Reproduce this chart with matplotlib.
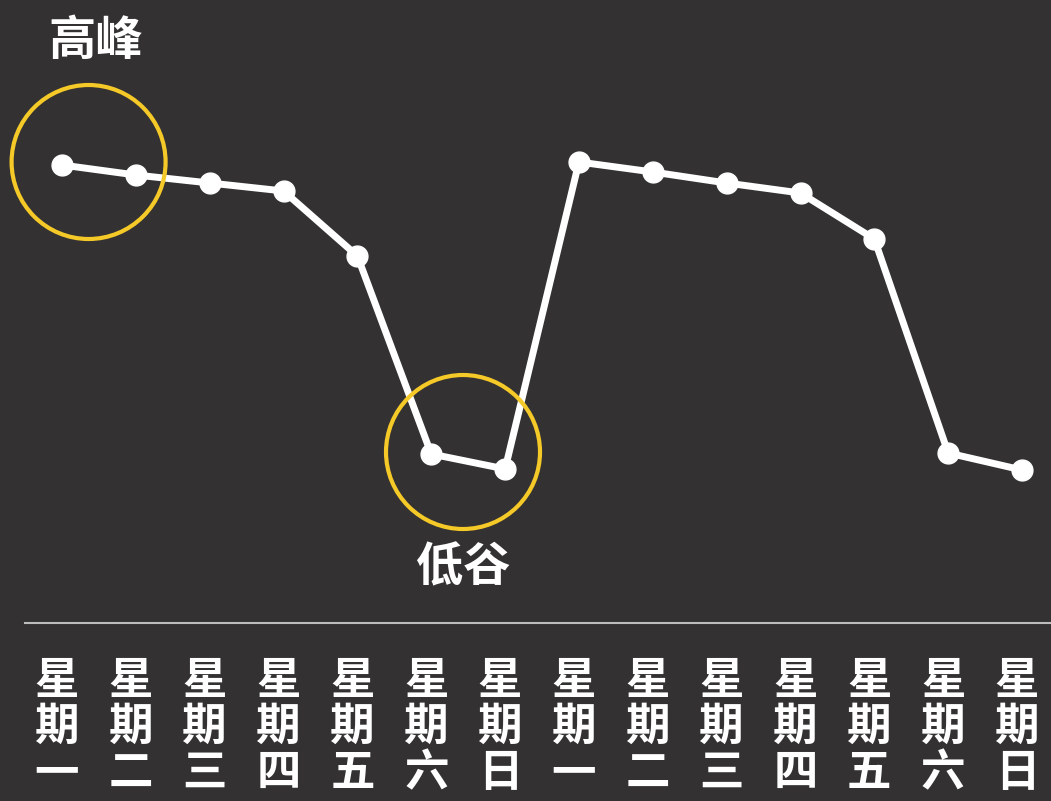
import matplotlib
matplotlib.use("Agg")
import matplotlib.pyplot as plt
from matplotlib.patches import Ellipse

plt.rcParams['font.family'] = ['Noto Sans CJK SC', 'DejaVu Sans']

days = ["星期一", "星期二", "星期三", "星期四", "星期五", "星期六", "星期日",
        "星期一", "星期二", "星期三", "星期四", "星期五", "星期六", "星期日"]
values = [458, 448, 440, 432, 367, 169, 154, 461, 451, 440, 430, 384, 170, 153]
peak_label = "高峰"
trough_label = "低谷"

W, H = 1051, 801
fig = plt.figure(figsize=(W / 100, H / 100), dpi=100)
bg = '#333131'
fig.patch.set_facecolor(bg)
ax = fig.add_axes([0, 0, 1, 1])
ax.set_facecolor(bg)

step = 73.85
x0px = 62
ax.set_xlim(-x0px / step, (W - x0px) / step)
ax.set_ylim(-178, 623)
ax.axis('off')

xs = list(range(len(values)))
ax.plot(xs, values, color='white', lw=5, marker='o', markersize=15,
        solid_joinstyle='round', zorder=3)

# baseline
ax.plot([-0.5, 14], [0, 0], color='#bdbdbd', lw=1.5, zorder=2)

# highlight circles
yellow = '#f5c928'
r = 77
ax.add_patch(Ellipse((0.36, 623 - 162), 2 * r / step, 2 * r, fill=False,
                     ec=yellow, lw=3, zorder=4))
ax.add_patch(Ellipse((5.43, 623 - 452), 2 * r / step, 2 * r, fill=False,
                     ec=yellow, lw=3, zorder=4))

ax.text(0.45, 623 - 41, peak_label, color='white', fontsize=34,
        fontweight='bold', ha='center', va='center')
ax.text(5.43, 623 - 567, trough_label, color='white', fontsize=34,
        fontweight='bold', ha='center', va='center')

off = -5 / step
for i, d in enumerate(days):
    ax.text(i + off, -35, "\n".join(d), color='white', fontsize=32, fontweight='bold',
            ha='center', va='top', linespacing=1.0)

fig.savefig("out.png", dpi=100, facecolor=bg)
